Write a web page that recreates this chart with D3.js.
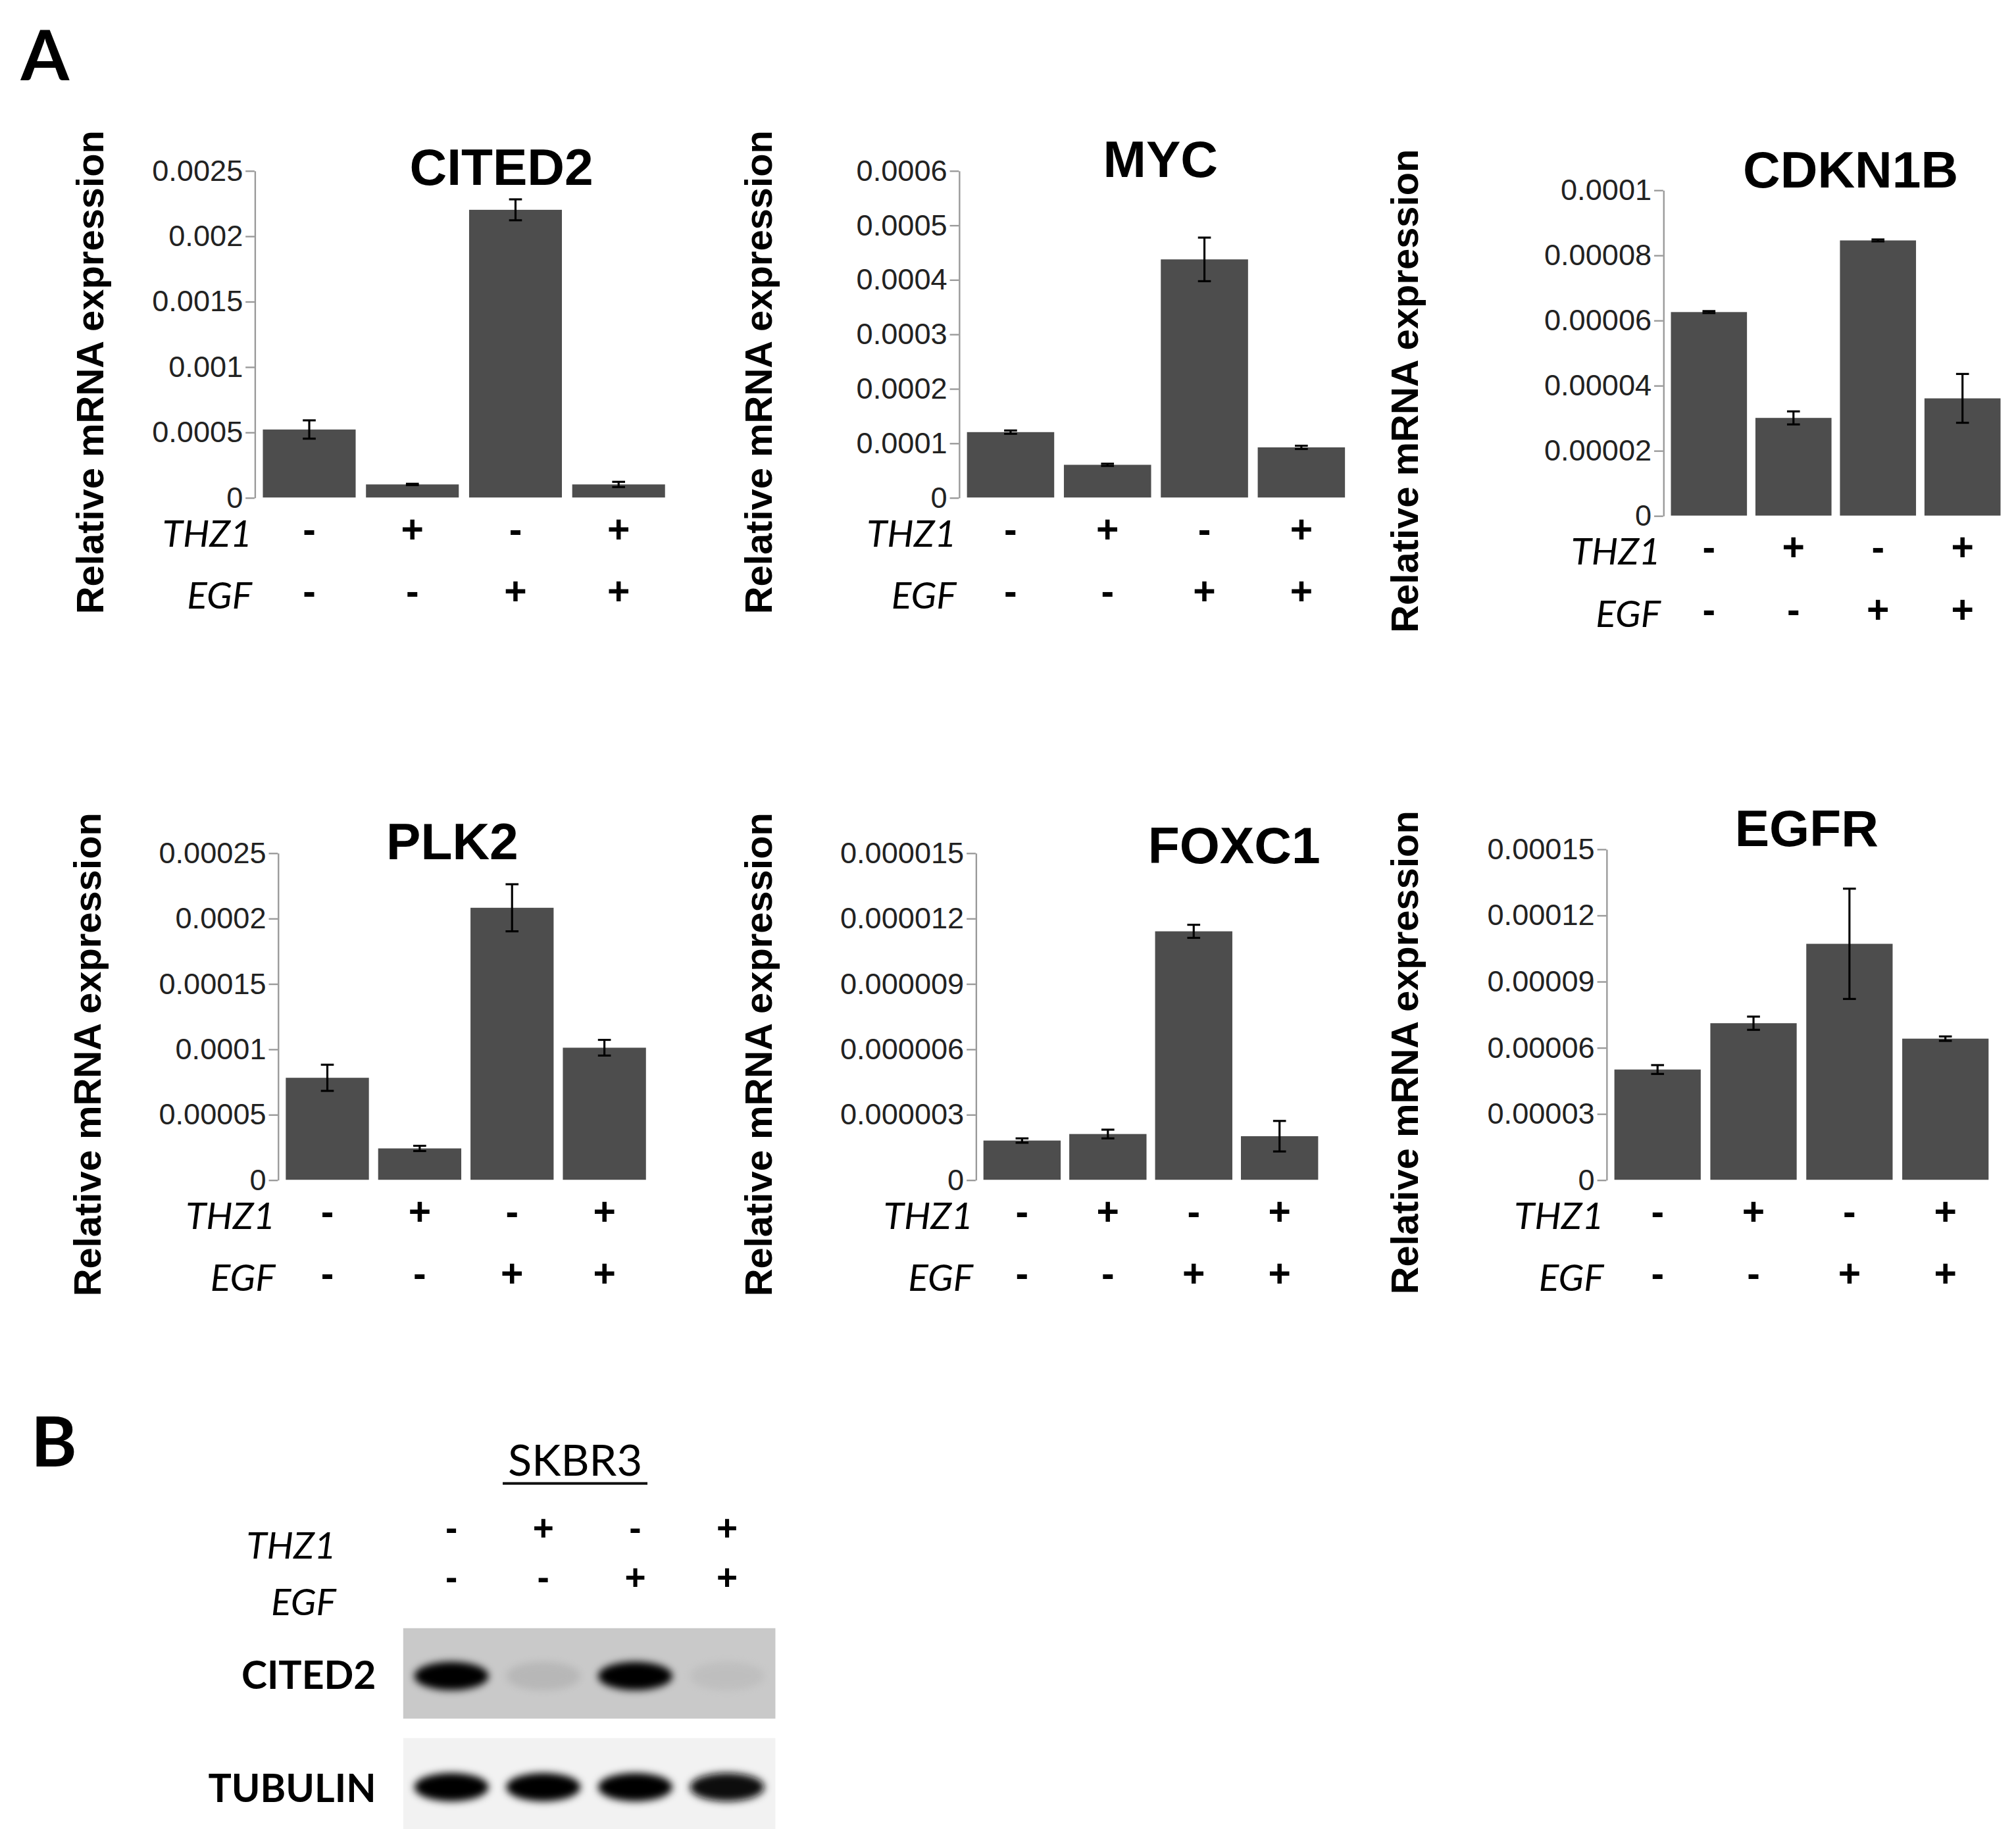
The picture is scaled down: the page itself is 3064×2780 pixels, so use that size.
<!DOCTYPE html>
<html><head><meta charset="utf-8">
<script src="https://cdn.jsdelivr.net/npm/d3@7"></script>
<style>body{margin:0;background:#fff}</style></head>
<body><svg id="fig"></svg>
<script>
// dane
const genes = ['CITED2', 'MYC', 'CDKN1B', 'PLK2', 'FOXC1', 'EGFR'];
const thz1 = ['-', '+', '-', '+'];
const egf = ['-', '-', '+', '+'];
const valCITED2 = [0.00052, 0.0001, 0.0022, 0.0001];
const errCITED2 = [0.00007, 0.000005, 0.00008, 0.00002];
const valMYC = [0.00012, 0.00006, 0.000437, 0.000092];
const errMYC = [0.000003, 0.000002, 0.00004, 0.000003];
const valCDKN1B = [0.0000625, 0.00003, 0.0000845, 0.000036];
const errCDKN1B = [0.0000003, 0.000002, 0.0000003, 0.0000075];
const valPLK2 = [0.000078, 0.000024, 0.000208, 0.000101];
const errPLK2 = [0.00001, 0.000002, 0.000018, 0.000006];
const valFOXC1 = [0.0000018, 0.0000021, 0.0000114, 0.000002];
const errFOXC1 = [0.0000001, 0.0000002, 0.0000003, 0.0000007];
const valEGFR = [0.00005, 0.000071, 0.000107, 0.000064];
const errEGFR = [0.000002, 0.000003, 0.000025, 0.000001];
const ticksCITED2 = ['0', '0.0005', '0.001', '0.0015', '0.002', '0.0025'];
const ticksMYC = ['0', '0.0001', '0.0002', '0.0003', '0.0004', '0.0005', '0.0006'];
const ticksCDKN1B = ['0', '0.00002', '0.00004', '0.00006', '0.00008', '0.0001'];
const ticksPLK2 = ['0', '0.00005', '0.0001', '0.00015', '0.0002', '0.00025'];
const ticksFOXC1 = ['0', '0.000003', '0.000006', '0.000009', '0.000012', '0.000015'];
const ticksEGFR = ['0', '0.00003', '0.00006', '0.00009', '0.00012', '0.00015'];
const blotCITED2 = [1, 0.2, 1, 0.15];
const blotTUBULIN = [1, 0.97, 0.97, 0.93];

const dane = {
  CITED2: [valCITED2, errCITED2, ticksCITED2],
  MYC: [valMYC, errMYC, ticksMYC],
  CDKN1B: [valCDKN1B, errCDKN1B, ticksCDKN1B],
  PLK2: [valPLK2, errPLK2, ticksPLK2],
  FOXC1: [valFOXC1, errFOXC1, ticksFOXC1],
  EGFR: [valEGFR, errEGFR, ticksEGFR]
};
// układ paneli (współrzędne w skali 1560 px)
const uklad = {
  CITED2: {ax: 197, top: 132, zero: 385, right: 517, tx: 388, ty: 143, lx: 80},
  MYC: {ax: 742, top: 132, zero: 385, right: 1043, tx: 898, ty: 137, lx: 597},
  CDKN1B: {ax: 1287, top: 147, zero: 399, right: 1550, tx: 1432, ty: 145, lx: 1097},
  PLK2: {ax: 215, top: 660, zero: 913, right: 502, tx: 350, ty: 665, lx: 78},
  FOXC1: {ax: 755, top: 660, zero: 913, right: 1022, tx: 955, ty: 668, lx: 597},
  EGFR: {ax: 1243, top: 657, zero: 913, right: 1541, tx: 1398, ty: 655, lx: 1097}
};

const k = 3064 / 1560;
const svg = d3.select('#fig').attr('width', 3064).attr('height', 2780);
const root = svg.append('g').attr('transform', `scale(${k})`);
const font = 'Liberation Sans, Arial, sans-serif';
const font2 = 'Lato, Open Sans, sans-serif';

root.append('text').attr('x', 16).attr('y', 62).text('A')
  .attr('font-family', font2).attr('font-weight', 'bold').attr('font-size', 54);

for (let g of genes) {
  const [val, err, tk] = dane[g];
  const u = uklad[g];
  const tickVals = tk.map(Number);
  const y = d3.scaleLinear().domain([0, d3.max(tickVals)]).range([u.zero, u.top]);
  const x = d3.scaleBand().domain(d3.range(4)).range([u.ax + 4, u.right]).paddingInner(0.1).paddingOuter(0.03);
  const p = root.append('g');

  const yAxis = d3.axisLeft(y).tickValues(tickVals).tickFormat((d, i) => tk[i]).tickSize(7).tickSizeOuter(0);
  const ag = p.append('g').attr('transform', `translate(${u.ax},0)`).call(yAxis);
  ag.selectAll('path,line').attr('stroke', '#999').attr('stroke-width', 1.2);
  ag.selectAll('text').attr('font-family', font).attr('font-size', 23).attr('fill', '#222').attr('x', -9);

  p.selectAll('rect.bar').data(val).join('rect')
    .attr('x', (d, i) => x(i)).attr('width', x.bandwidth())
    .attr('y', d => y(d)).attr('height', d => u.zero - y(d)).attr('fill', '#4d4d4d');

  const eb = p.selectAll('g.err').data(val).join('g').attr('stroke', '#000').attr('stroke-width', 1.6);
  eb.append('line').attr('x1', (d, i) => x(i) + x.bandwidth() / 2).attr('x2', (d, i) => x(i) + x.bandwidth() / 2)
    .attr('y1', (d, i) => y(d + err[i])).attr('y2', (d, i) => y(d - err[i]));
  for (const s of [1, -1]) {
    eb.append('line').attr('x1', (d, i) => x(i) + x.bandwidth() / 2 - 5).attr('x2', (d, i) => x(i) + x.bandwidth() / 2 + 5)
      .attr('y1', (d, i) => y(d + s * err[i])).attr('y2', (d, i) => y(d + s * err[i]));
  }

  p.append('text').attr('x', u.tx).attr('y', u.ty).attr('text-anchor', 'middle').text(g)
    .attr('font-family', font).attr('font-weight', 'bold').attr('font-size', 40);

  p.append('text').attr('transform', `translate(${u.lx},${(u.top + u.zero + 95) / 2 - 18}) rotate(-90)`)
    .attr('text-anchor', 'middle').text('Relative mRNA expression')
    .attr('font-family', font).attr('font-weight', 'bold').attr('font-size', 29.5);

  [['THZ1', thz1, 38], ['EGF', egf, 86]].forEach(([lab, arr, dy]) => {
    p.append('text').attr('x', u.ax - 2).attr('y', u.zero + dy).attr('text-anchor', 'end').text(lab)
      .attr('font-family', font2).attr('font-style', 'italic').attr('font-size', 29);
    p.selectAll(null).data(arr).join('text').attr('x', (d, i) => x(i) + x.bandwidth() / 2).attr('y', u.zero + dy - 3)
      .attr('text-anchor', 'middle').text(d => d)
      .attr('font-family', font).attr('font-weight', 'bold').attr('font-size', 30);
  });
}

// panel B - western blot
root.append('text').attr('x', 24).attr('y', 1135).text('B')
  .attr('font-family', font2).attr('font-weight', 'bold').attr('font-size', 54);
const lanes = d3.scaleBand().domain(d3.range(4)).range([312, 600]).padding(0.05);
const cx = i => lanes(i) + lanes.bandwidth() / 2;
root.append('text').attr('x', 445).attr('y', 1142).attr('text-anchor', 'middle').text('SKBR3')
  .attr('font-family', font2).attr('font-size', 34);
root.append('line').attr('x1', 389).attr('x2', 501).attr('y1', 1148).attr('y2', 1148).attr('stroke', '#111').attr('stroke-width', 2);
[['THZ1', thz1, 1206, 1192], ['EGF', egf, 1250, 1230]].forEach(([lab, arr, ly, sy]) => {
  root.append('text').attr('x', 260).attr('y', ly).attr('text-anchor', 'end').text(lab)
    .attr('font-family', font2).attr('font-style', 'italic').attr('font-size', 29);
  root.selectAll(null).data(arr).join('text').attr('x', (d, i) => cx(i)).attr('y', sy)
    .attr('text-anchor', 'middle').text(d => d)
    .attr('font-family', font).attr('font-weight', 'bold').attr('font-size', 28);
});
const defs = svg.append('defs');
defs.append('filter').attr('id', 'blur').attr('x', '-50%').attr('y', '-100%').attr('width', '200%').attr('height', '300%')
  .append('feGaussianBlur').attr('stdDeviation', 3);
const szary = d3.interpolateRgb('#c4c4c4', '#000');
[['CITED2', blotCITED2, 1260, 1330, '#c9c9c9', 1297], ['TUBULIN', blotTUBULIN, 1345, 1420, '#f2f2f2', 1383]].forEach(([lab, arr, y0, y1, bg, by]) => {
  root.append('rect').attr('x', 312).attr('y', y0).attr('width', 288).attr('height', y1 - y0).attr('fill', bg);
  root.selectAll(null).data(arr).join('ellipse').attr('cx', (d, i) => cx(i)).attr('cy', by)
    .attr('rx', lanes.bandwidth() / 2 - 5).attr('ry', 11)
    .attr('fill', d => szary(d)).attr('opacity', d => Math.min(1, d * 2))
    .attr('filter', 'url(#blur)');
  root.append('text').attr('x', 291).attr('y', (y0 + y1) / 2 + 12).attr('text-anchor', 'end').text(lab)
    .attr('font-family', font2).attr('font-weight', 'bold').attr('font-size', 30);
});
</script></body></html>
